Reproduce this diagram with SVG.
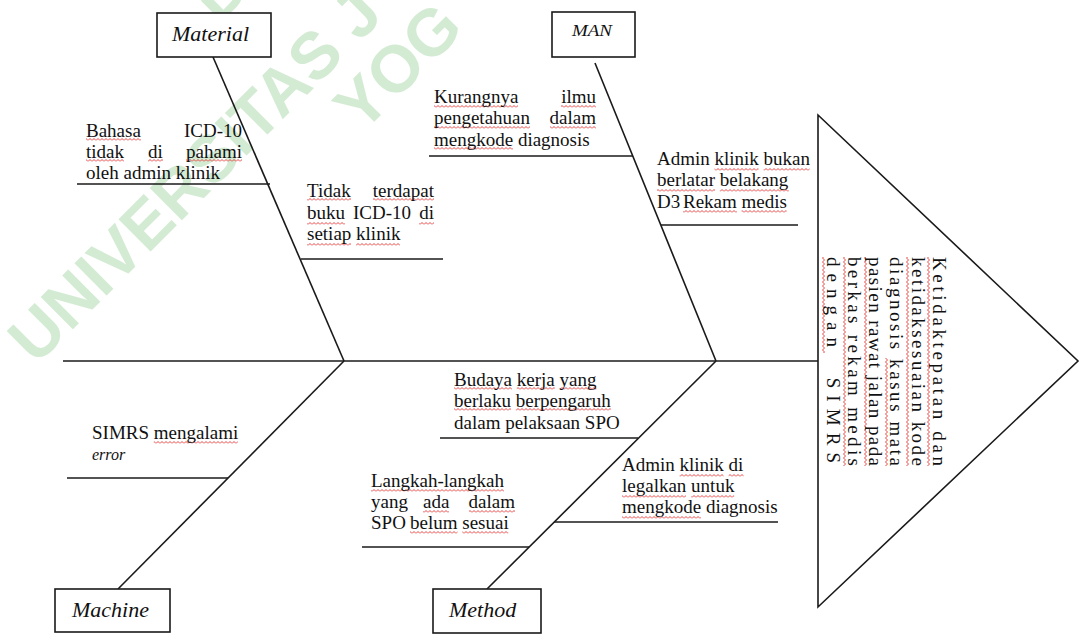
<svg xmlns="http://www.w3.org/2000/svg" width="1088" height="637" viewBox="0 0 1088 637">
<style>
.t{font-family:"Liberation Serif","Times New Roman",serif;font-size:19px;fill:#111}
.lbl{font-family:"Liberation Serif","Times New Roman",serif;font-style:italic;font-size:22px;fill:#111}
.ln{stroke:#1a1a1a;stroke-width:1.6;fill:none}
.box{fill:#fff;stroke:#1a1a1a;stroke-width:1.6}
.wm{font-family:"Liberation Sans",Arial,sans-serif;font-weight:bold;font-size:66px;fill:#d3ebd3}
.sh{fill:url(#wh)}
.sv{fill:url(#wv)}
</style>
<defs>
<pattern id="wh" width="4" height="3" patternUnits="userSpaceOnUse"><path d="M0,2.5 L2,0.5 L4,2.5" fill="none" stroke="#e53030" stroke-width="0.9"/></pattern>
<pattern id="wv" width="3" height="4" patternUnits="userSpaceOnUse"><path d="M2.5,0 L0.5,2 L2.5,4" fill="none" stroke="#e53030" stroke-width="0.9"/></pattern>
</defs>
<rect width="1088" height="637" fill="#fff"/>
<g id="watermark">
<text class="wm" transform="translate(230,36) rotate(-45)">P</text>
<text class="wm" transform="translate(36,366) rotate(-45)">UNIVERSITAS J</text>
<text class="wm" transform="translate(362,134) rotate(-45)">YOG</text>
</g>
<g id="connectors">
<line class="ln" x1="63" y1="361" x2="818" y2="361"/>
<line class="ln" x1="213" y1="57" x2="344" y2="361"/>
<line class="ln" x1="595" y1="63" x2="716" y2="361"/>
<line class="ln" x1="344" y1="361" x2="118" y2="589"/>
<line class="ln" x1="716" y1="361" x2="487" y2="589"/>
<line class="ln" x1="77" y1="184" x2="270" y2="184"/>
<line class="ln" x1="301" y1="259" x2="443" y2="259"/>
<line class="ln" x1="429" y1="156" x2="633" y2="156"/>
<line class="ln" x1="661" y1="225" x2="798" y2="225"/>
<line class="ln" x1="67" y1="478" x2="228" y2="478"/>
<line class="ln" x1="440" y1="438" x2="638" y2="438"/>
<line class="ln" x1="554" y1="522" x2="778" y2="522"/>
<line class="ln" x1="362" y1="547" x2="529" y2="547"/>
</g>
<g id="material">
<rect class="box" x="157" y="13" width="114" height="44"/>
<text class="lbl" x="172" y="41">Material</text>
</g>
<g id="man">
<rect class="box" x="552" y="12" width="83" height="45"/>
<text class="lbl" x="572" y="36" style="font-size:17px" textLength="40" lengthAdjust="spacingAndGlyphs">MAN</text>
</g>
<g id="machine">
<rect class="box" x="55" y="589" width="115" height="43"/>
<text class="lbl" x="72" y="617">Machine</text>
</g>
<g id="method">
<rect class="box" x="433" y="589" width="108" height="44"/>
<text class="lbl" x="449" y="617">Method</text>
</g>
<g id="effect">
<polygon class="box" points="818,115 1078,361 818,607"/>
<rect class="sv" x="927" y="257" width="3" height="209"/>
<rect class="sv" x="906" y="257" width="3" height="209"/>
<rect class="sv" x="885" y="358" width="3" height="108"/>
<rect class="sv" x="864" y="257" width="3" height="209"/>
<rect class="sv" x="843" y="257" width="3" height="209"/>
<rect class="sv" x="822" y="257" width="3" height="96"/>
<g transform="translate(933,257) rotate(90)">
<text class="t" x="0" y="0" textLength="209" lengthAdjust="spacing">Ketidaktepatan dan</text>
<text class="t" x="0" y="21.3" textLength="209" lengthAdjust="spacing">ketidaksesuaian kode</text>
<text class="t" x="0" y="42.6" textLength="209" lengthAdjust="spacing">diagnosis kasus mata</text>
<text class="t" x="0" y="63.9" textLength="209" lengthAdjust="spacing">pasien rawat jalan pada</text>
<text class="t" x="0" y="85.2" textLength="209" lengthAdjust="spacing">berkas rekam medis</text>
<text class="t" x="0" y="106.5" textLength="206" lengthAdjust="spacing" xml:space="preserve">dengan  SIMRS</text>
</g>
</g>
<g id="cause-bahasa">
<rect class="sh" x="86" y="138" width="55" height="3"/>
<rect class="sh" x="86" y="159" width="38" height="3"/>
<rect class="sh" x="148" y="159" width="15" height="3"/>
<rect class="sh" x="186" y="159" width="56" height="3"/>
<text class="t" x="86" y="137">Bahasa</text>
<text class="t" x="242" y="137" text-anchor="end">ICD-10</text>
<text class="t" x="86" y="158">tidak</text>
<text class="t" x="148" y="158">di</text>
<text class="t" x="242" y="158" text-anchor="end">pahami</text>
<text class="t" x="86" y="179">oleh admin klinik</text>
</g>
<g id="cause-buku">
<rect class="sh" x="307" y="198" width="44" height="3"/>
<rect class="sh" x="373" y="198" width="61" height="3"/>
<rect class="sh" x="307" y="222" width="38" height="3"/>
<rect class="sh" x="419" y="222" width="15" height="3"/>
<rect class="sh" x="307" y="243" width="44" height="3"/>
<rect class="sh" x="356" y="243" width="44" height="3"/>
<text class="t" x="307" y="197">Tidak</text>
<text class="t" x="434" y="197" text-anchor="end">terdapat</text>
<text class="t" x="307" y="219">buku</text>
<text class="t" x="353" y="219">ICD-10</text>
<text class="t" x="434" y="219" text-anchor="end">di</text>
<text class="t" x="307" y="240">setiap klinik</text>
</g>
<g id="cause-ilmu">
<rect class="sh" x="434" y="105" width="84" height="3"/>
<rect class="sh" x="561" y="105" width="35" height="3"/>
<rect class="sh" x="434" y="126" width="96" height="3"/>
<rect class="sh" x="550" y="126" width="46" height="3"/>
<rect class="sh" x="434" y="147" width="79" height="3"/>
<text class="t" x="434" y="103">Kurangnya</text>
<text class="t" x="596" y="103" text-anchor="end">ilmu</text>
<text class="t" x="434" y="124">pengetahuan</text>
<text class="t" x="596" y="124" text-anchor="end">dalam</text>
<text class="t" x="434" y="146">mengkode diagnosis</text>
</g>
<g id="cause-admin">
<rect class="sh" x="714.5" y="168" width="44" height="3"/>
<rect class="sh" x="763.6" y="168" width="46" height="3"/>
<rect class="sh" x="657" y="189" width="58" height="3"/>
<rect class="sh" x="719.8" y="189" width="69" height="3"/>
<rect class="sh" x="683" y="210" width="54" height="3"/>
<rect class="sh" x="741.6" y="210" width="45" height="3"/>
<text class="t" x="657" y="165">Admin klinik bukan</text>
<text class="t" x="657" y="186">berlatar belakang</text>
<text class="t" x="657" y="208">D3</text>
<text class="t" x="683" y="208">Rekam medis</text>
</g>
<g id="cause-simrs">
<rect class="sh" x="153.8" y="441" width="84" height="3"/>
<text class="t" x="92" y="439">SIMRS mengalami</text>
<text class="t" x="92" y="460" style="font-style:italic;font-size:16px">error</text>
</g>
<g id="cause-budaya">
<rect class="sh" x="454" y="387" width="58" height="3"/>
<rect class="sh" x="516.8" y="387" width="38" height="3"/>
<rect class="sh" x="559.5" y="387" width="37" height="3"/>
<rect class="sh" x="454" y="408" width="57" height="3"/>
<rect class="sh" x="515.8" y="408" width="95" height="3"/>
<text class="t" x="454" y="386">Budaya kerja yang</text>
<text class="t" x="454" y="407">berlaku berpengaruh</text>
<text class="t" x="454" y="429">dalam pelaksaan SPO</text>
</g>
<g id="cause-legal">
<rect class="sh" x="679.6" y="474" width="44" height="3"/>
<rect class="sh" x="728.6" y="474" width="15" height="3"/>
<rect class="sh" x="622" y="495" width="64" height="3"/>
<rect class="sh" x="691.2" y="495" width="43" height="3"/>
<rect class="sh" x="622" y="516" width="79" height="3"/>
<text class="t" x="622" y="471">Admin klinik di</text>
<text class="t" x="622" y="492">legalkan untuk</text>
<text class="t" x="622" y="513">mengkode diagnosis</text>
</g>
<g id="cause-langkah">
<rect class="sh" x="371" y="489" width="133" height="3"/>
<rect class="sh" x="423" y="510" width="26" height="3"/>
<rect class="sh" x="469" y="510" width="46" height="3"/>
<rect class="sh" x="410" y="531" width="47.5" height="3"/>
<rect class="sh" x="462.3" y="531" width="46" height="3"/>
<text class="t" x="371" y="487">Langkah-langkah</text>
<text class="t" x="371" y="508">yang</text>
<text class="t" x="423" y="508">ada</text>
<text class="t" x="515" y="508" text-anchor="end">dalam</text>
<text class="t" x="371" y="529">SPO</text>
<text class="t" x="410" y="529">belum sesuai</text>
</g>
</svg>
